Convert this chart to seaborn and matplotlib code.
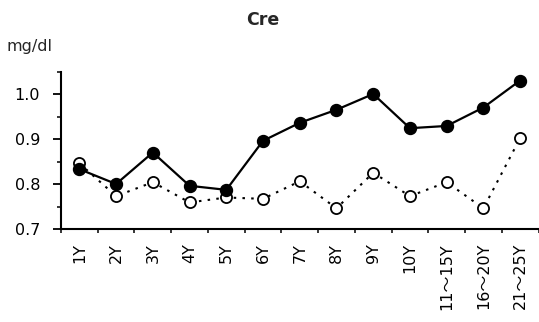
import numpy as np
import pandas as pd
import matplotlib
matplotlib.use("Agg")
import matplotlib.pyplot as plt
from matplotlib.ticker import FixedLocator
import seaborn as sns

# Serum creatinine by age group
categories = ["1Y", "2Y", "3Y", "4Y", "5Y", "6Y", "7Y", "8Y", "9Y", "10Y",
              "11〜15Y", "16〜20Y", "21〜25Y"]
filled_values = [0.833, 0.800, 0.870, 0.796, 0.787, 0.896, 0.936, 0.965,
                 1.000, 0.924, 0.929, 0.970, 1.030]
open_values = [0.846, 0.773, 0.804, 0.759, 0.770, 0.767, 0.806, 0.746,
               0.825, 0.773, 0.804, 0.746, 0.902]
y_ticks = [0.7, 0.8, 0.9, 1.0]
y_tick_labels = ["0.7", "0.8", "0.9", "1.0"]

sns.set_theme(style="ticks")
plt.rcParams["font.family"] = ["DejaVu Sans", "Noto Sans CJK JP"]

W, H = 539, 322
fig = plt.figure(figsize=(W / 100, H / 100), dpi=100)
ax = fig.add_axes([61 / W, 1 - 229 / H, 477.5 / W, (229 - 71.5) / H])

df = pd.DataFrame({"age": categories, "a": filled_values, "b": open_values})

sns.pointplot(data=df, x="age", y="b", ax=ax, color="black",
              errorbar=None, marker="o", markersize=8, markeredgewidth=1.3,
              markerfacecolor="white", markeredgecolor="black",
              linestyle=(0, (1.2, 3)), linewidth=1.5)
sns.pointplot(data=df, x="age", y="a", ax=ax, color="black",
              errorbar=None, marker="o", markersize=8.6, markeredgewidth=1,
              linestyle="-", linewidth=1.6)

ax.set_xlim(-0.5, len(categories) - 0.5)
ax.set_ylim(0.7, 1.05)
ax.set_xlabel("")
ax.set_ylabel("")

ax.set_yticks(y_ticks)
ax.set_yticklabels(y_tick_labels)
ax.yaxis.set_minor_locator(FixedLocator([0.75, 0.85, 0.95, 1.05]))
ax.tick_params(axis="y", which="major", length=6, width=1.3, pad=9,
               labelsize=11.5, colors="black")
ax.tick_params(axis="y", which="minor", length=3, width=1.3)

ax.set_xticks(range(len(categories)))
ax.set_xticklabels(categories, rotation=90, va="top", ha="center")
ax.xaxis.set_minor_locator(FixedLocator(np.arange(-0.5, len(categories))))
ax.tick_params(axis="x", which="major", length=0, pad=10, labelsize=11.5,
               colors="black")
ax.tick_params(axis="x", which="minor", length=3, width=1.3)

for side in ("top", "right"):
    ax.spines[side].set_visible(False)
for side in ("left", "bottom"):
    ax.spines[side].set_linewidth(1.5)
    ax.spines[side].set_color("black")

fig.text(263 / W, 1 - 20 / H, "Cre", ha="center", va="center",
         fontsize=12.5, fontweight="bold")
fig.text(7 / W, 1 - 47 / H, "mg/dl", ha="left", va="center", fontsize=11.5)

fig.savefig("out.png", dpi=100, facecolor="white")
